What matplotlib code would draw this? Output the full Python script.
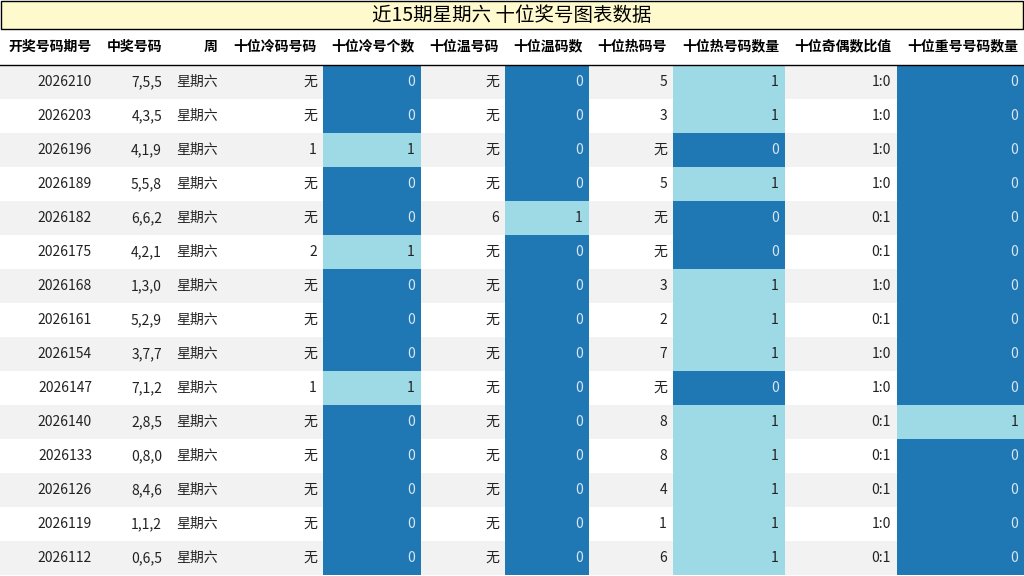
import matplotlib
matplotlib.use("Agg")
import matplotlib.pyplot as plt
from matplotlib.patches import Rectangle

plt.rcParams['font.family'] = ['Noto Sans CJK SC', 'DejaVu Sans']

title = "近15期星期六 十位奖号图表数据"
headers = ["开奖号码期号", "中奖号码", "周", "十位冷码号码", "十位冷号个数", "十位温号码", "十位温码数",
           "十位热码号", "十位热号码数量", "十位奇偶数比值", "十位重号号码数量"]
periods = ["2026210","2026203","2026196","2026189","2026182","2026175","2026168","2026161",
           "2026154","2026147","2026140","2026133","2026126","2026119","2026112"]
numbers = ["7,5,5","4,3,5","4,1,9","5,5,8","6,6,2","4,2,1","1,3,0","5,2,9","3,7,7","7,1,2",
           "2,8,5","0,8,0","8,4,6","1,1,2","0,6,5"]
weekday = ["星期六"] * 15
cold_codes = ["无","无","1","无","无","2","无","无","无","1","无","无","无","无","无"]
cold_count = [0,0,1,0,0,1,0,0,0,1,0,0,0,0,0]
warm_codes = ["无","无","无","无","6","无","无","无","无","无","无","无","无","无","无"]
warm_count = [0,0,0,0,1,0,0,0,0,0,0,0,0,0,0]
hot_codes = ["5","3","无","5","无","无","3","2","7","无","8","8","4","1","6"]
hot_count = [1,1,0,1,0,0,1,1,1,0,1,1,1,1,1]
odd_even = ["1:0","1:0","1:0","1:0","0:1","0:1","1:0","0:1","1:0","1:0","0:1","0:1","0:1","1:0","0:1"]
repeat_count = [0,0,0,0,0,0,0,0,0,0,1,0,0,0,0]

columns = [periods, numbers, weekday, cold_codes, cold_count, warm_codes, warm_count,
           hot_codes, hot_count, odd_even, repeat_count]
colored = {4, 6, 8, 10}
edges = [0, 98, 168, 224, 323, 421, 505, 589, 673, 785, 897, 1024]
DARK, LIGHT = "#1f77b4", "#9edae5"

W, H = 1024, 576
fig = plt.figure(figsize=(W/100, H/100), dpi=100)
ax = fig.add_axes([0, 0, 1, 1])
ax.set_xlim(0, W); ax.set_ylim(H, 0); ax.axis('off')

ax.add_patch(Rectangle((0.5, 0.5), W-1.5, 28, facecolor="#fffacd", edgecolor="black", lw=1))
ax.text(W/2, 15, title, ha='center', va='center', fontsize=14)

hy0, hy1 = 29, 64
for i, h in enumerate(headers):
    ax.text(edges[i+1]-6, (hy0+hy1)/2, h, ha='right', va='center', fontsize=10, fontweight='bold')
ax.plot([0, W], [hy1+0.5, hy1+0.5], color='black', lw=1)

y0, rh = 65, 34
for r in range(15):
    top = y0 + r*rh
    if r % 2 == 0:
        ax.add_patch(Rectangle((0, top), W, rh, facecolor="#f2f2f2", edgecolor='none'))
    for c, col in enumerate(columns):
        v = col[r]
        color = "#222222"
        if c in colored:
            fc = LIGHT if v == 1 else DARK
            ax.add_patch(Rectangle((edges[c], top), edges[c+1]-edges[c], rh, facecolor=fc, edgecolor='none'))
            color = "#222222" if v == 1 else "#d8e6f2"
        ax.text(edges[c+1]-6, top+rh/2, str(v), ha='right', va='center', fontsize=10, color=color)

fig.savefig("out.png", dpi=100)
